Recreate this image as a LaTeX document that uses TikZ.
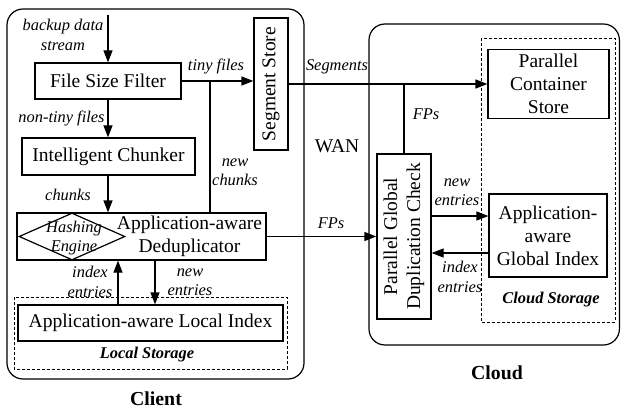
\documentclass[tikz,border=0pt]{standalone}
\usepackage{fontspec}
\setmainfont{Liberation Serif}
\usetikzlibrary{shapes.geometric,arrows.meta}
\tikzset{
  box/.style={draw, line width=1.2pt, inner sep=0pt, align=center, font=\fontsize{19.5}{23}\selectfont},
  lab/.style={font=\fontsize{16.4}{19.5}\selectfont\itshape, align=center, inner sep=0pt},
  storelab/.style={font=\fontsize{16.4}{19.5}\selectfont\bfseries\itshape, inner sep=0pt},
  title/.style={font=\fontsize{19.8}{23}\selectfont\bfseries, inner sep=0pt},
  frame/.style={draw, line width=1.2pt, rounded corners=16pt},
  dbox/.style={draw, line width=0.9pt, dash pattern=on 3pt off 2pt},
  conn/.style={line width=1.2pt},
  arr/.style={line width=1.2pt, -{Triangle[length=12pt,width=9pt]}}
}
\begin{document}
\begin{tikzpicture}[x=1pt,y=-1pt]
\useasboundingbox (0,0) rectangle (621,409);
% frames
\draw[frame] (7,9) rectangle (304,379);
\draw[frame] (369,24) rectangle (619.4,345);
\draw[dbox] (14,297) rectangle (287,369);
\draw[dbox] (481,38) rectangle (615,322);
% nodes
\node[box, minimum width=146pt, minimum height=36pt] (fsf) at (108,81) {File Size Filter};
\node[box, minimum width=173pt, minimum height=37pt] (ic) at (108.5,156.5) {Intelligent Chunker};
\node[box, minimum width=249pt, minimum height=47pt] (ad) at (141.5,236.5) {};
\node[box, draw=none] (adt) at (189.5,236.5) {Application-aware\\Deduplicator};
\node[draw, diamond, line width=1.2pt, inner sep=0pt, minimum width=106pt, minimum height=47pt] (hash) at (72,236.5) {};
\node[lab] (hasht) at (74,238) {Hashing\\Engine};
\node[box, minimum width=34pt, minimum height=132pt] (ss) at (271,84) {};
\node[box, draw=none, rotate=90] (sst) at (ss) {Segment Store};
\node[box, minimum width=265pt, minimum height=36pt] (li) at (150.5,323) {Application-aware Local Index};
\node[box, minimum width=121pt, minimum height=69pt] (pcs) at (548.5,84) {Parallel\\Container\\Store};
\node[box, minimum width=118pt, minimum height=83pt] (agi) at (548,235.5) {Application-\\aware\\Global Index};
\node[box, minimum width=54pt, minimum height=165pt] (pg) at (404,236.5) {};
\node[box, draw=none, rotate=90] (pgt) at (pg) {Parallel Global\\Duplication Check};
% coordinates
\coordinate (in) at (108,15);
\coordinate (j1) at (210,81);
\coordinate (x1) at (118,0);
\coordinate (x2) at (155,0);
\path (pg.east) ++(0,-20.5) coordinate (ne);
\path (agi.west) ++(0,17.5) coordinate (ie);
% connectors
\draw[arr] (in) -- (fsf.north);
\draw[arr] (fsf.south) -- (ic.north -| fsf.south);
\draw[arr] (ic.south -| fsf.south) -- (ad.north -| fsf.south);
\draw[arr] (fsf.east) -- (fsf.east -| ss.west);
\draw[conn] (j1) -- (j1 |- ad.north);
\draw[arr] (ss.east) -- (pcs.west);
\draw[conn] (pg.north) -- (pg.north |- ss.east);
\draw[arr] (ad.east) -- (pg.west);
\draw[arr] (ne) -- (ne -| agi.west);
\draw[arr] (ie) -- (ie -| pg.east);
\draw[arr] (li.north -| x1) -- (ad.south -| x1);
\draw[arr] (ad.south -| x2) -- (li.north -| x2);
% labels
\node[lab] at (63,35) {backup data\\stream};
\node[lab] at (61.5,118) {non-tiny files};
\node[lab] at (68,195) {chunks};
\node[lab] at (216,66) {tiny files};
\node[lab] at (235,172) {new\\chunks};
\node[lab] at (337,67) {Segments};
\node[lab] at (426,114) {FPs};
\node[box, draw=none] at (337,146) {WAN};
\node[lab] at (331,223) {FPs};
\node[lab] at (457,192) {new\\entries};
\node[lab] at (460,277) {index\\entries};
\node[lab] at (90,282) {index\\entries};
\node[lab] at (190,282) {new\\entries};
\node[storelab] at (147,355) {Local Storage};
\node[storelab] at (551,300) {Cloud Storage};
\node[title] at (156,398.5) {Client};
\node[title] at (497,373) {Cloud};
\end{tikzpicture}
\end{document}
